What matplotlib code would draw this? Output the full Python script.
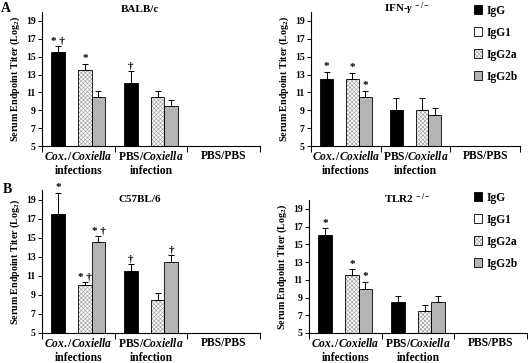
import matplotlib
matplotlib.use("Agg")
import matplotlib.pyplot as plt
from matplotlib.patches import Patch
import numpy as np

plt.rcParams['font.family'] = ['Liberation Serif', 'DejaVu Serif']
plt.rcParams['font.weight'] = 'bold'
plt.rcParams['mathtext.fontset'] = 'custom'
plt.rcParams['mathtext.rm'] = 'Liberation Serif:bold'
plt.rcParams['mathtext.it'] = 'Liberation Serif:bold:italic'
plt.rcParams['mathtext.bf'] = 'Liberation Serif:bold'
plt.rcParams['hatch.linewidth'] = 0.5

categories = [r"$\it{Cox./Coxiella}$" + "\ninfections",
              "PBS/" + r"$\it{Coxiella}$" + "\ninfection",
              "PBS/PBS"]
isotypes = ["IgG", "IgG1", "IgG2a", "IgG2b"]

titles = ["BALB/c", r"IFN-$\gamma$$^{\ -/-}$", "C57BL/6", r"TLR2$^{\ -/-}$"]

# values per panel: [category][isotype]; None = no bar
balb_vals = [[15.5, None, 13.5, 10.5], [12.0, None, 10.5, 9.5], [None, None, None, None]]
balb_err = [[0.7, None, 0.7, 0.7], [1.4, None, 0.7, 0.7], [None, None, None, None]]
balb_sig = [["* †", "", "*", ""], ["†", "", "", ""], ["", "", "", ""]]

ifn_vals = [[12.5, None, 12.5, 10.5], [9.0, None, 9.0, 8.5], [None, None, None, None]]
ifn_err = [[0.8, None, 0.7, 0.7], [1.4, None, 1.4, 0.7], [None, None, None, None]]
ifn_sig = [["*", "", "*", "*"], ["", "", "", ""], ["", "", "", ""]]

c57_vals = [[17.5, None, 10.0, 14.5], [11.5, None, 8.5, 12.5], [None, None, None, None]]
c57_err = [[2.2, None, 0.3, 0.7], [0.7, None, 0.7, 0.7], [None, None, None, None]]
c57_sig = [["*", "", "* †", "* †"], ["†", "", "", "†"], ["", "", "", ""]]

tlr_vals = [[16.0, None, 11.5, 10.0], [8.5, None, 7.5, 8.5], [None, None, None, None]]
tlr_err = [[0.8, None, 0.7, 0.8], [0.7, None, 0.7, 0.7], [None, None, None, None]]
tlr_sig = [["*", "", "*", "*"], ["", "", "", ""], ["", "", "", ""]]

yticks = [5, 7, 9, 11, 13, 15, 17, 19]
ylabel = r"Serum Endpoint Titer (Log$_{2}$)"

styles = [dict(facecolor="black", hatch=None),
          dict(facecolor="white", hatch=None),
          dict(facecolor="white", hatch="xxxxxxxx"),
          dict(facecolor="#b4b4b4", hatch=None)]
hatch_col = "#a6a6a6"

W, H = 528, 363
fig = plt.figure(figsize=(W / 100, H / 100), dpi=100)

def px_axes(l, r, top, bottom):
    return fig.add_axes([l / W, 1 - bottom / H, (r - l) / W, (bottom - top) / H])

panels = [
    (px_axes(42, 260, 12, 146), balb_vals, balb_err, balb_sig, titles[0], (140, 9)),
    (px_axes(311, 520, 12, 146), ifn_vals, ifn_err, ifn_sig, titles[1], (407, 9)),
    (px_axes(42, 260, 190, 333), c57_vals, c57_err, c57_sig, titles[2], (140, 200)),
    (px_axes(309, 527, 200, 333), tlr_vals, tlr_err, tlr_sig, titles[3], (407, 199)),
]

bw = 0.185
base = 5
for ax, vals, errs, sigs, title, tpos in panels:
    for ci in range(len(categories)):
        for ii in range(len(isotypes)):
            v = vals[ci][ii]
            if v is None:
                continue
            x = ci + 0.5 + (ii - 1.5) * bw
            st = styles[ii]
            if st["hatch"]:
                ax.bar(x, v - base, bottom=base, width=bw, facecolor=st["facecolor"],
                       hatch=st["hatch"], edgecolor=hatch_col, linewidth=0, zorder=2)
                ax.bar(x, v - base, bottom=base, width=bw, fill=False,
                       edgecolor="black", linewidth=0.6, zorder=2.5)
            else:
                ax.bar(x, v - base, bottom=base, width=bw, facecolor=st["facecolor"],
                       edgecolor="black", linewidth=0.6, zorder=2)
            e = errs[ci][ii]
            ax.errorbar(x, v, yerr=[[0], [e]], fmt="none", ecolor="black",
                        elinewidth=0.7, capsize=2.2, capthick=0.7, zorder=3)
            s = sigs[ci][ii]
            if s:
                ax.text(x, v + e + 0.05, s, ha="center", va="bottom",
                        fontsize=8, fontweight="bold", zorder=4)
    ax.set_xlim(0, 3)
    ax.set_ylim(5, 20)
    ax.set_yticks(yticks)
    ax.set_xticks([0, 1, 2, 3])
    ax.set_xticklabels([])
    ax.set_xticks([0.5, 1.5, 2.5], minor=True)
    ax.set_xticklabels(categories, minor=True, fontsize=8.3, fontweight="bold")
    ax.tick_params(axis="x", which="minor", length=0, pad=3)
    ax.tick_params(axis="x", which="major", length=4, direction="out", width=0.7)
    ax.tick_params(axis="y", length=3, direction="out", width=0.7, labelsize=7, pad=1.5)
    for lab in ax.get_yticklabels():
        lab.set_fontweight("bold")
    for sp in ("top", "right"):
        ax.spines[sp].set_visible(False)
    for sp in ("left", "bottom"):
        ax.spines[sp].set_linewidth(0.8)
    ax.set_ylabel(ylabel, fontsize=7.2, fontweight="bold", labelpad=3)
    fig.text(tpos[0] / W, 1 - tpos[1] / H, title, ha="center", va="center",
             fontsize=8, fontweight="bold")

fig.text(1 / W, 1 - 8 / H, "A", fontsize=10, fontweight="bold", va="center", ha="left")
fig.text(3 / W, 1 - 189 / H, "B", fontsize=10, fontweight="bold", va="center", ha="left")

handles = []
for st in styles:
    if st["hatch"]:
        handles.append((Patch(facecolor="white", hatch=st["hatch"], edgecolor=hatch_col,
                              linewidth=0),
                        Patch(fill=False, edgecolor="black", linewidth=0.6)))
    else:
        handles.append(Patch(facecolor=st["facecolor"], edgecolor="black", linewidth=0.6))
for ytop in (0, 187):
    fig.legend(handles, isotypes, loc="upper left",
               bbox_to_anchor=(469 / W, 1 - ytop / H), frameon=False,
               fontsize=8.3, handlelength=0.75, handleheight=0.75,
               handletextpad=0.35, labelspacing=0.87, borderaxespad=0)

fig.savefig("out.png", dpi=100)
